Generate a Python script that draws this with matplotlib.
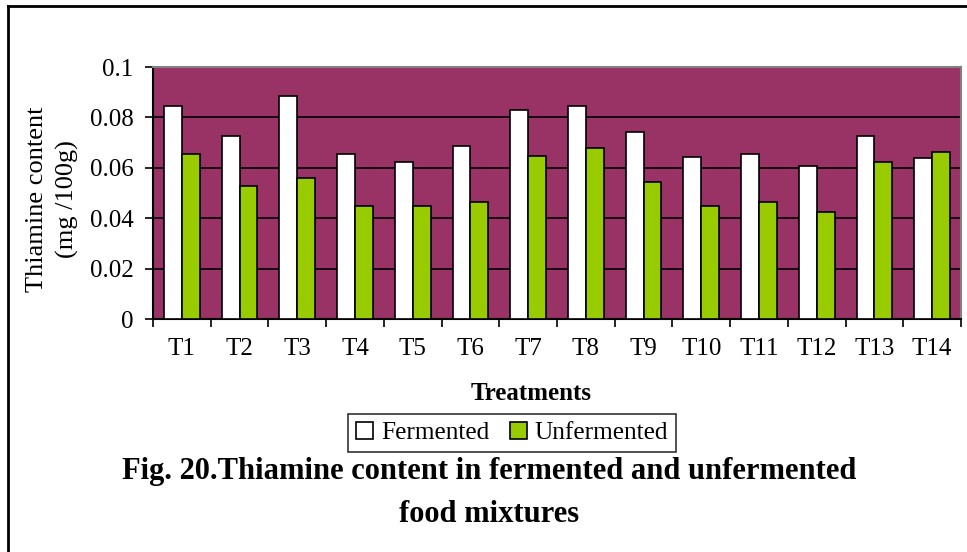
import matplotlib
matplotlib.use("Agg")
import matplotlib.pyplot as plt
import numpy as np
from matplotlib.patches import Patch
from matplotlib.lines import Line2D

categories = ["T1", "T2", "T3", "T4", "T5", "T6", "T7", "T8", "T9", "T10", "T11", "T12", "T13", "T14"]
fermented = [0.0847, 0.0727, 0.0886, 0.0655, 0.0624, 0.0687, 0.0830, 0.0847, 0.0744, 0.0641, 0.0655, 0.0608, 0.0727, 0.0639]
unfermented = [0.0655, 0.0528, 0.0560, 0.0449, 0.0449, 0.0465, 0.0647, 0.0679, 0.0544, 0.0449, 0.0465, 0.0425, 0.0624, 0.0663]
yticks = [0, 0.02, 0.04, 0.06, 0.08, 0.1]
ytick_labels = ["0", "0.02", "0.04", "0.06", "0.08", "0.1"]

serif = "Liberation Serif"
fig = plt.figure(figsize=(9.67, 5.52), dpi=100)
ax = fig.add_axes([153/967, 1-319/552, (961-153)/967, (319-67)/552])
ax.set_facecolor("#993366")

x = np.arange(len(categories))
w = 0.31
ax.bar(x - w/2, fermented, w, color="white", edgecolor="black", linewidth=1.2, zorder=3, label="Fermented")
ax.bar(x + w/2, unfermented, w, color="#99CC00", edgecolor="black", linewidth=1.2, zorder=3, label="Unfermented")

ax.set_xlim(-0.5, len(categories) - 0.5)
ax.set_ylim(0, 0.1)
ax.set_yticks(yticks)
ax.set_yticklabels(ytick_labels, fontfamily=serif, fontsize=18)
ax.yaxis.grid(True, color="black", linewidth=1.2, zorder=1)
ax.set_axisbelow(True)

ax.set_xticks(x)
ax.set_xticklabels(categories, fontfamily=serif, fontsize=18)
ax.tick_params(axis="x", length=0, pad=14)
ax.set_xticks(np.arange(-0.5, len(categories), 1), minor=True)
ax.tick_params(axis="x", which="minor", length=6, width=1.2, direction="out")
ax.tick_params(axis="y", length=6, width=1.2, direction="out", pad=8)

for s in ["left", "bottom"]:
    ax.spines[s].set_color("black")
    ax.spines[s].set_linewidth(1.5)
for s in ["top", "right"]:
    ax.spines[s].set_color("#808080")
    ax.spines[s].set_linewidth(1.5)

ax.set_xlabel("Treatments", fontfamily=serif, fontsize=18, fontweight="bold")
ax.xaxis.set_label_coords((531-153)/808, (319-382)/252)
ax.set_ylabel("Thiamine content\n(mg /100g)", fontfamily=serif, fontsize=19, linespacing=1.45)
ax.yaxis.set_label_coords((79-153)/808, (319-199)/252)

handles = [Patch(facecolor="white", edgecolor="black", linewidth=1.2),
           Patch(facecolor="#99CC00", edgecolor="black", linewidth=1.2)]
leg = fig.legend(handles, ["Fermented", "Unfermented"], loc="center", bbox_to_anchor=(512/967, 1-433/552),
                 ncol=2, frameon=True, fancybox=False, edgecolor="black", prop={"family": serif, "size": 18.3},
                 handlelength=0.7, handleheight=0.7, handletextpad=0.3, columnspacing=0.8, borderpad=0.3)
leg.get_frame().set_linewidth(1.2)

fig.text(489/967, 1-471/552, "Fig. 20.Thiamine content in fermented and unfermented",
         ha="center", va="center", fontfamily=serif, fontsize=22, fontweight="bold")
fig.text(489/967, 1-515/552, "food mixtures",
         ha="center", va="center", fontfamily=serif, fontsize=22, fontweight="bold")

# outer border
fig.add_artist(Line2D([8/967, 8/967], [0, 1-6/552], transform=fig.transFigure, color="black", linewidth=2))
fig.add_artist(Line2D([8/967, 1], [1-6/552, 1-6/552], transform=fig.transFigure, color="black", linewidth=2))

fig.savefig("out.png", dpi=100)
